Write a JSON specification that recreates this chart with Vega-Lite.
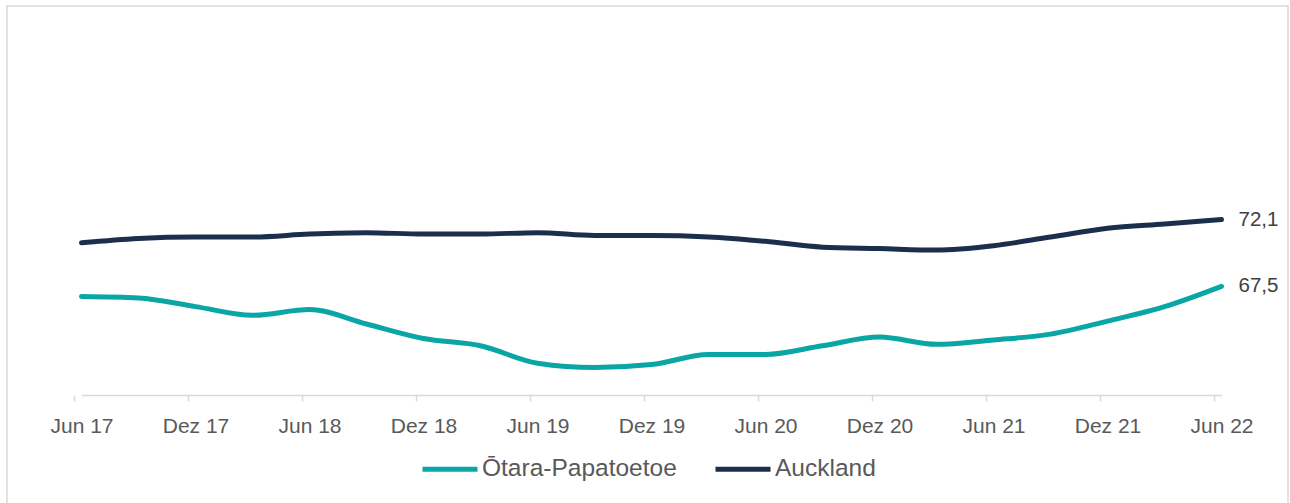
{
  "$schema": "https://vega.github.io/schema/vega-lite/v6.json",
  "width": 1281,
  "height": 510,
  "autosize": {"type": "none"},
  "padding": {"left": 7, "top": 6, "right": 2, "bottom": 0},
  "config": {
    "view": {"stroke": "#d9d9d9", "strokeWidth": 1.5},
    "font": "Liberation Sans",
    "locale": {"number": {"decimal": ",", "thousands": ".", "grouping": [3], "currency": ["", " €"]}}
  },
  "data": {
    "values": [
      {"quarter": "Jun 17", "region": "Ōtara-Papatoetoe", "value": 66.8},
      {"quarter": "Sep 17", "region": "Ōtara-Papatoetoe", "value": 66.7},
      {"quarter": "Dez 17", "region": "Ōtara-Papatoetoe", "value": 66.1},
      {"quarter": "Mär 18", "region": "Ōtara-Papatoetoe", "value": 65.5},
      {"quarter": "Jun 18", "region": "Ōtara-Papatoetoe", "value": 65.9},
      {"quarter": "Sep 18", "region": "Ōtara-Papatoetoe", "value": 64.9},
      {"quarter": "Dez 18", "region": "Ōtara-Papatoetoe", "value": 63.9},
      {"quarter": "Mär 19", "region": "Ōtara-Papatoetoe", "value": 63.4},
      {"quarter": "Jun 19", "region": "Ōtara-Papatoetoe", "value": 62.2},
      {"quarter": "Sep 19", "region": "Ōtara-Papatoetoe", "value": 61.9},
      {"quarter": "Dez 19", "region": "Ōtara-Papatoetoe", "value": 62.1},
      {"quarter": "Mär 20", "region": "Ōtara-Papatoetoe", "value": 62.8},
      {"quarter": "Jun 20", "region": "Ōtara-Papatoetoe", "value": 62.8},
      {"quarter": "Sep 20", "region": "Ōtara-Papatoetoe", "value": 63.4},
      {"quarter": "Dez 20", "region": "Ōtara-Papatoetoe", "value": 64.0},
      {"quarter": "Mär 21", "region": "Ōtara-Papatoetoe", "value": 63.5},
      {"quarter": "Jun 21", "region": "Ōtara-Papatoetoe", "value": 63.8},
      {"quarter": "Sep 21", "region": "Ōtara-Papatoetoe", "value": 64.2},
      {"quarter": "Dez 21", "region": "Ōtara-Papatoetoe", "value": 65.1},
      {"quarter": "Mär 22", "region": "Ōtara-Papatoetoe", "value": 66.1},
      {"quarter": "Jun 22", "region": "Ōtara-Papatoetoe", "value": 67.5},
      {"quarter": "Jun 17", "region": "Auckland", "value": 70.5},
      {"quarter": "Sep 17", "region": "Auckland", "value": 70.8},
      {"quarter": "Dez 17", "region": "Auckland", "value": 70.9},
      {"quarter": "Mär 18", "region": "Auckland", "value": 70.9},
      {"quarter": "Jun 18", "region": "Auckland", "value": 71.1},
      {"quarter": "Sep 18", "region": "Auckland", "value": 71.2},
      {"quarter": "Dez 18", "region": "Auckland", "value": 71.1},
      {"quarter": "Mär 19", "region": "Auckland", "value": 71.1},
      {"quarter": "Jun 19", "region": "Auckland", "value": 71.2},
      {"quarter": "Sep 19", "region": "Auckland", "value": 71.0},
      {"quarter": "Dez 19", "region": "Auckland", "value": 71.0},
      {"quarter": "Mär 20", "region": "Auckland", "value": 70.9},
      {"quarter": "Jun 20", "region": "Auckland", "value": 70.6},
      {"quarter": "Sep 20", "region": "Auckland", "value": 70.2},
      {"quarter": "Dez 20", "region": "Auckland", "value": 70.1},
      {"quarter": "Mär 21", "region": "Auckland", "value": 70.0},
      {"quarter": "Jun 21", "region": "Auckland", "value": 70.3},
      {"quarter": "Sep 21", "region": "Auckland", "value": 70.9},
      {"quarter": "Dez 21", "region": "Auckland", "value": 71.5},
      {"quarter": "Mär 22", "region": "Auckland", "value": 71.8},
      {"quarter": "Jun 22", "region": "Auckland", "value": 72.1}
    ]
  },
  "encoding": {
    "x": {
      "field": "quarter",
      "type": "ordinal",
      "scale": {
        "type": "point",
        "domain": ["Jun 17", "Sep 17", "Dez 17", "Mär 18", "Jun 18", "Sep 18", "Dez 18", "Mär 19", "Jun 19", "Sep 19", "Dez 19", "Mär 20", "Jun 20", "Sep 20", "Dez 20", "Mär 21", "Jun 21", "Sep 21", "Dez 21", "Mär 22", "Jun 22"],
        "range": [74.5, 1214.5],
        "padding": 0
      },
      "axis": {
        "title": null,
        "values": ["Jun 17", "Dez 17", "Jun 18", "Dez 18", "Jun 19", "Dez 19", "Jun 20", "Dez 20", "Jun 21", "Dez 21", "Jun 22"],
        "labelAngle": 0,
        "grid": false,
        "domainColor": "#d9d9d9",
        "domainWidth": 1.5,
        "tickColor": "#d9d9d9",
        "tickWidth": 1.5,
        "tickSize": 6,
        "tickOffset": -7.5,
        "labelOffset": 7.5,
        "labelFontSize": 21,
        "labelColor": "#595959",
        "labelPadding": 14,
        "offset": -121
      }
    },
    "y": {
      "field": "value",
      "type": "quantitative",
      "scale": {"domain": [51.66, 86.83], "nice": false, "zero": false},
      "axis": null
    },
    "color": {
      "field": "region",
      "type": "nominal",
      "scale": {"domain": ["Ōtara-Papatoetoe", "Auckland"], "range": ["#0aa6a6", "#1b2f4c"]},
      "legend": {
        "title": null,
        "orient": "none",
        "direction": "horizontal",
        "legendX": 413,
        "legendY": 433,
        "symbolType": "stroke",
        "symbolSize": 3025,
        "symbolStrokeWidth": 5,
        "labelFontSize": 24.5,
        "labelColor": "#595959",
        "labelLimit": 0,
        "labelOffset": 2,
        "columnPadding": 28
      }
    }
  },
  "layer": [
    {"mark": {"type": "line", "strokeWidth": 5, "interpolate": "monotone", "strokeCap": "round"}},
    {
      "transform": [{"filter": "datum.quarter === 'Jun 22'"}],
      "mark": {"type": "text", "align": "left", "baseline": "middle", "dx": 17, "fontSize": 20.5},
      "encoding": {
        "text": {"field": "value", "type": "quantitative", "format": ".1f"},
        "color": {"value": "#404040"}
      }
    }
  ]
}
